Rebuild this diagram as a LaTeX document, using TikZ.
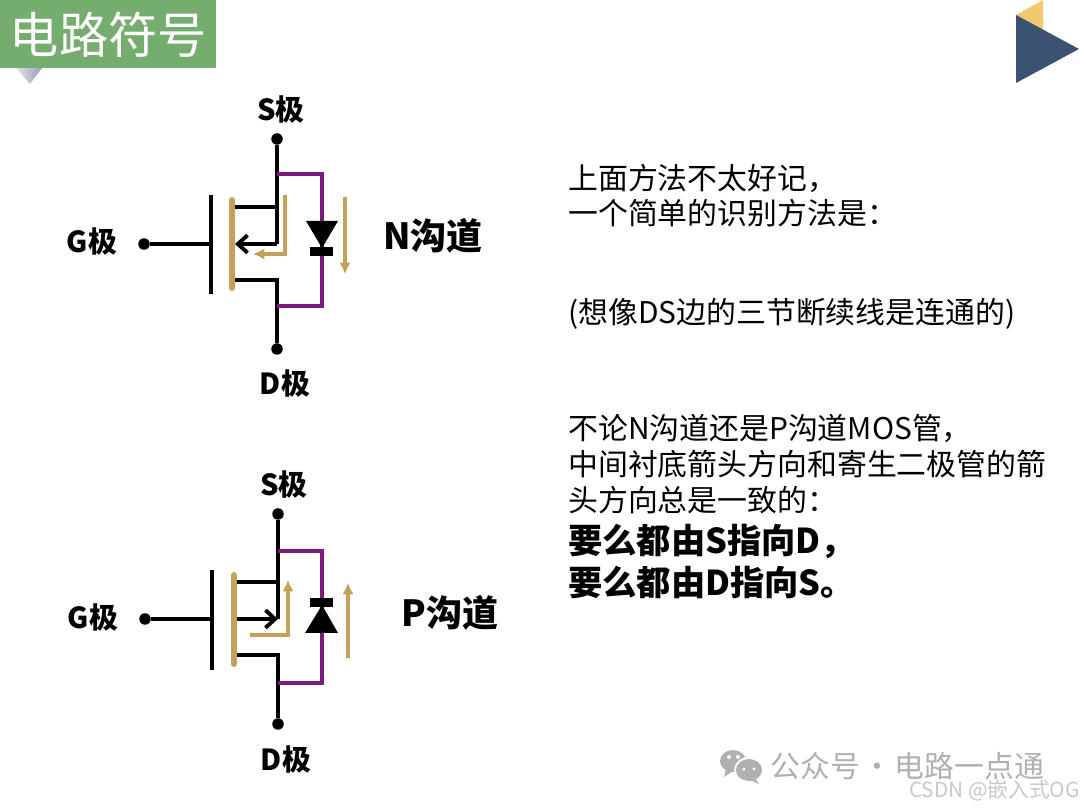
\documentclass[tikz,border=0pt]{standalone}
\usepackage{fontspec}
\usetikzlibrary{arrows.meta}
\setmainfont{Noto Sans CJK SC}
\definecolor{titlegreen}{HTML}{74AD6E}
\definecolor{navy}{HTML}{3B5272}
\definecolor{gold}{HTML}{F2C96F}
\definecolor{tangold}{HTML}{C4A15A}
\definecolor{wire}{HTML}{7B1B7E}
\definecolor{wmgray}{HTML}{B0B0B0}
\definecolor{lav}{HTML}{9C9CBC}
\begin{document}
\begin{tikzpicture}[
  x = 0.02cm, y = -0.02cm,
  dot/.style = {circle, fill = black, inner sep = 0pt, minimum size = 11.5*0.02cm},
  lab/.style = {font = \fontsize{16.5}{20}\selectfont\bfseries},
  chan/.style = {font = \fontsize{20.5}{25}\selectfont\bfseries},
  txt/.style = {anchor = base west, inner sep = 0pt, font = \fontsize{17}{20}\selectfont},
  big/.style = {anchor = base west, inner sep = 0pt, font = \fontsize{19.5}{23}\selectfont\bfseries},
  blk/.style = {line width = 2.2pt},
  gatebar/.style = {line width = 2.7pt},
  chanbar/.style = {line width = 3.4pt, tangold, line cap = round},
  purpleline/.style = {line width = 2pt, wire},
  hintline/.style = {line width = 2pt, tangold},
  hinttip/.style = {-{Latex[length = 6.5pt, width = 6.5pt]}},
  blktip/.style = {-{Straight Barb[length = 5.5pt, width = 10pt]}}
  ]
  \useasboundingbox (0,0) rectangle (1080,810);

  %title
  \shade[left color = lav!30, right color = lav] (16,68) -- (42,68) -- (30,84) -- cycle;
  \node[fill = titlegreen, minimum width = 216*0.02cm, minimum height = 68*0.02cm, inner sep = 0pt,
        anchor = north west, text = white, font = \fontsize{28}{33}\selectfont] (title) at (0,0) {电路符号};

  %corner
  \fill[gold] (1016,15) -- (1043,0) -- (1043,32) -- cycle;
  \fill[navy] (1016,15) -- (1079,49) -- (1016,83) -- cycle;

  %first mos
  \node[dot] (s1) at (277,139) {};
  \node[dot] (d1) at (277,349) {};
  \node[dot] (g1) at (144,244) {};
  \coordinate (gt1) at (211,195);
  \coordinate (gb1) at (211,294);
  \coordinate (gm1) at (211,244);
  \coordinate (ct1) at (232,200);
  \coordinate (cb1) at (232,288);
  \coordinate (su1) at (234,207);
  \coordinate (sj1) at (277,207);
  \coordinate (sm1) at (277,244);
  \coordinate (am1) at (235,244);
  \coordinate (dl1) at (234,280);
  \coordinate (dj1) at (277,280);
  \coordinate (pa1) at (277,174);
  \coordinate (pb1) at (322,174);
  \coordinate (pc1) at (322,306);
  \coordinate (pd1) at (277,306);
  \draw[blk] (g1) -- (gm1);
  \draw[gatebar] (gt1) -- (gb1);
  \draw[blk] (s1) -- (sm1);
  \draw[blk, blktip] (sm1) -- (am1);
  \draw[blk] (su1) -- (sj1);
  \draw[blk] (dl1) -- (dj1) -- (d1);
  \draw[chanbar] (ct1) -- (cb1);
  \draw[purpleline] (pa1) -- (pb1) -- (pc1) -- (pd1);
  \fill (306,221) -- (338,221) -- (322,248) -- cycle;
  \fill (310,247) rectangle (333,256);
  \draw[hintline, hinttip] (285,195) -- (285,254) -- (253,254);
  \draw[hintline, hinttip] (345,197) -- (345,274);
  \node[lab] (s1t) at (281,110) {S极};
  \node[lab] (d1t) at (285,384) {D极};
  \node[lab] (g1t) at (92,242) {G极};
  \node[chan] (n1t) at (433,236) {N沟道};

  %second mos
  \node[dot] (s2) at (278,514) {};
  \node[dot] (d2) at (278,724) {};
  \node[dot] (g2) at (145,619) {};
  \coordinate (gt2) at (212,570);
  \coordinate (gb2) at (212,670);
  \coordinate (gm2) at (212,619);
  \coordinate (ct2) at (234,575);
  \coordinate (cb2) at (234,664);
  \coordinate (su2) at (236,582);
  \coordinate (sj2) at (278,582);
  \coordinate (sm2) at (278,619);
  \coordinate (am2) at (236,619);
  \coordinate (dl2) at (236,655);
  \coordinate (dj2) at (278,655);
  \coordinate (pa2) at (278,551);
  \coordinate (pb2) at (322,551);
  \coordinate (pc2) at (322,683);
  \coordinate (pd2) at (278,683);
  \draw[blk] (g2) -- (gm2);
  \draw[gatebar] (gt2) -- (gb2);
  \draw[blk] (s2) -- (sm2);
  \draw[blk, blktip] (am2) -- (sm2);
  \draw[blk] (su2) -- (sj2);
  \draw[blk] (dl2) -- (dj2) -- (d2);
  \draw[chanbar] (ct2) -- (cb2);
  \draw[purpleline] (pa2) -- (pb2) -- (pc2) -- (pd2);
  \fill (310,598) rectangle (333,607);
  \fill (305,633) -- (338,633) -- (322,605) -- cycle;
  \draw[hintline, hinttip] (250,635) -- (288,635) -- (288,580);
  \draw[hintline, hinttip] (348,658) -- (348,583);
  \node[lab] (s2t) at (284,485) {S极};
  \node[lab] (d2t) at (286,760) {D极};
  \node[lab] (g2t) at (93,618) {G极};
  \node[chan] (p2t) at (450,613) {P沟道};

  %right text
  \node[txt] (l1) at (568,190) {上面方法不太好记，};
  \node[txt] (l2) at (568,225) {一个简单的识别方法是：};
  \node[txt] (l3) at (568,324) {(想像DS边的三节断续线是连通的)};
  \node[txt] (l4) at (568,440) {不论N沟道还是P沟道MOS管，};
  \node[txt] (l5) at (568,476) {中间衬底箭头方向和寄生二极管的箭};
  \node[txt] (l6) at (568,512) {头方向总是一致的：};
  \node[big] (l7) at (568,554) {要么都由S指向D，};
  \node[big] (l8) at (568,596) {要么都由D指向S。};

  %watermark
  \fill[wmgray] (733,761) ellipse (13 and 11);
  \fill[white] (749,770) ellipse (15 and 13);
  \fill[wmgray] (749,770) ellipse (13 and 11);
  \fill[wmgray] (726,769) -- (724,777) -- (733,771) -- cycle;
  \fill[wmgray] (755,778) -- (759,784) -- (750,780) -- cycle;
  \fill[white] (729,757) circle (2) (738,757) circle (2) (744,769) circle (1.7) (754,769) circle (1.7);
  \node[anchor = base west, inner sep = 0pt, text = wmgray, font = \fontsize{17}{20}\selectfont] (wm) at (770,778) {公众号\hspace{0.08em}·\hspace{0.08em}电路一点通};
  \node[anchor = base east, inner sep = 0pt, text = wmgray!70, font = \fontsize{11.8}{14}\selectfont] (cs) at (1080,798) {CSDN @嵌入式OG};
\end{tikzpicture}
\end{document}
